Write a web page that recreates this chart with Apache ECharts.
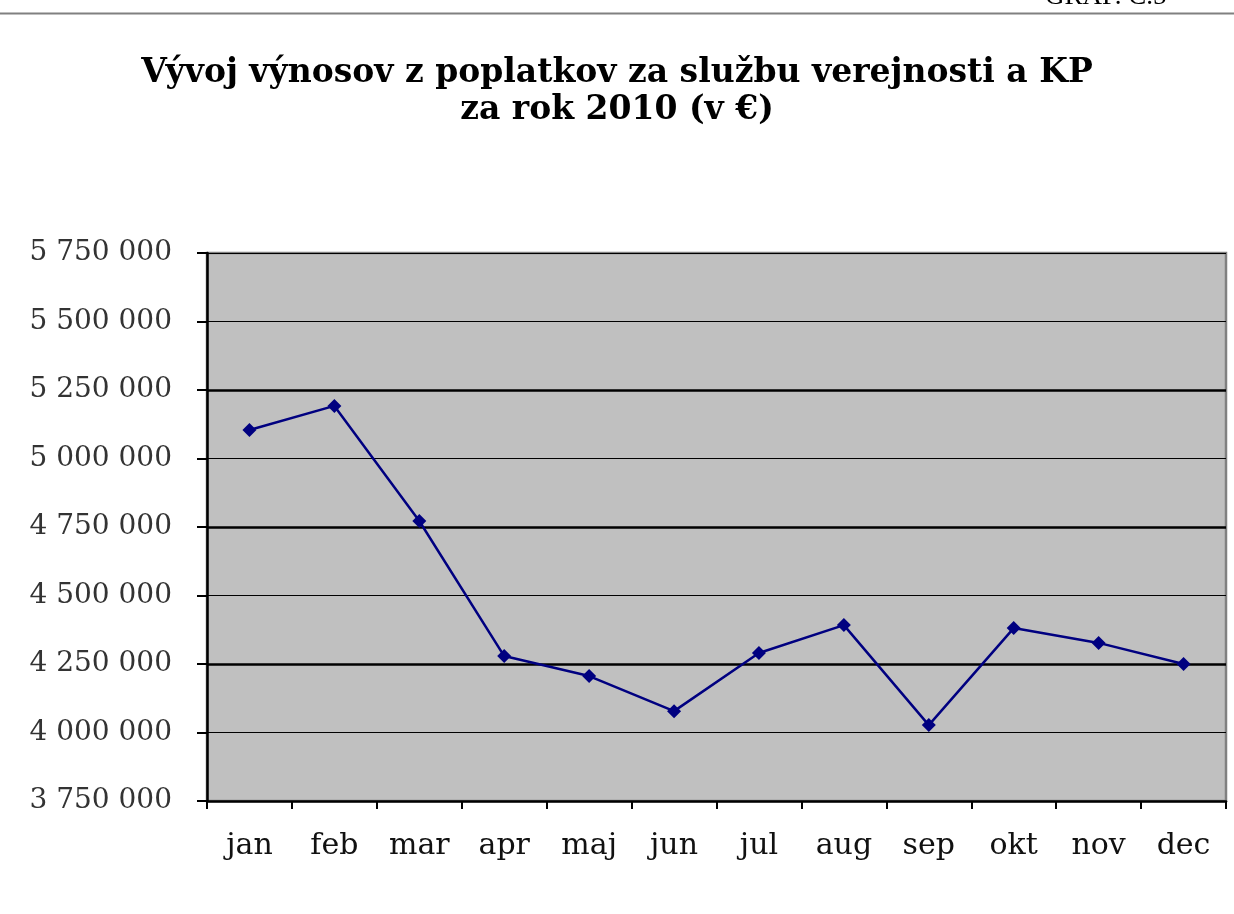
<!DOCTYPE html>
<html>
<head>
<meta charset="utf-8">
<script src="https://cdn.jsdelivr.net/npm/echarts@6/dist/echarts.min.js"></script>
<style>
  html, body { margin: 0; padding: 0; background: #fff; }
  #main { width: 1234px; height: 914px; }
</style>
</head>
<body>
<div id="main"></div>
<script>
// mesiace
var months = ['jan', 'feb', 'mar', 'apr', 'maj', 'jun', 'jul', 'aug', 'sep', 'okt', 'nov', 'dec'];
// výnosy v €
var revenue = [5104000, 5192000, 4772000, 4279000, 4206000, 4078000, 4290000, 4392000, 4027000, 4381000, 4327000, 4250000];
// os y
var yMin = 3750000;
var yMax = 5750000;
var yStep = 250000;
// hrubšie čiary mriežky
var thickGrid = [5250000, 4750000, 4250000];

function spaced(v) {
    return String(v).replace(/\B(?=(\d{3})+(?!\d))/g, ' ');
}

var chart = echarts.init(document.getElementById('main'));
var option = {
    backgroundColor: '#ffffff',
    animation: false,
    title: {
        text: 'Vývoj výnosov z poplatkov za službu verejnosti a KP\nza rok 2010 (v €)',
        left: 'center',
        top: 50,
        textStyle: {
            fontFamily: 'DejaVu Serif',
            fontWeight: 'bold',
            fontSize: 33,
            lineHeight: 37,
            color: '#000'
        }
    },
    graphic: [
        {
            type: 'line',
            shape: { x1: 0, y1: 13.5, x2: 1234, y2: 13.5 },
            style: { stroke: '#808080', lineWidth: 2 }
        },
        {
            type: 'text',
            left: 1045,
            top: -17,
            style: {
                text: 'GRAF. Č.5',
                font: '27px "Liberation Serif"',
                fill: '#000'
            }
        }
    ],
    grid: {
        left: 207,
        right: 8,
        top: 253,
        bottom: 113,
        show: true,
        backgroundColor: '#c0c0c0',
        borderColor: '#808080',
        borderWidth: 2.5
    },
    xAxis: {
        type: 'category',
        data: months,
        boundaryGap: true,
        axisLine: { lineStyle: { color: '#000', width: 2.5 } },
        axisTick: { show: true, length: 8, lineStyle: { color: '#000', width: 2 } },
        axisLabel: {
            fontSize: 30,
            color: '#111',
            margin: 30,
            fontFamily: 'DejaVu Serif'
        }
    },
    yAxis: {
        type: 'value',
        min: yMin,
        max: yMax,
        interval: yStep,
        axisLine: { show: true, lineStyle: { color: '#000', width: 2.5 } },
        axisTick: { show: true, length: 10, lineStyle: { color: '#000', width: 2 } },
        splitLine: { show: true, lineStyle: { color: '#000', width: 1.2 } },
        axisLabel: {
            fontSize: 28,
            color: '#333',
            margin: 35,
            fontFamily: 'DejaVu Serif',
            formatter: spaced
        }
    },
    series: [{
        type: 'line',
        data: revenue,
        symbol: 'diamond',
        symbolSize: 14,
        z: 5,
        itemStyle: { color: '#000080' },
        lineStyle: { color: '#000080', width: 2.5 },
        markLine: {
            silent: true,
            symbol: 'none',
            z: 1,
            label: { show: false },
            lineStyle: { color: '#000', width: 2.5, type: 'solid' },
            data: thickGrid.map(function (v) { return { yAxis: v }; })
        }
    }]
};
chart.setOption(option);
</script>
</body>
</html>
